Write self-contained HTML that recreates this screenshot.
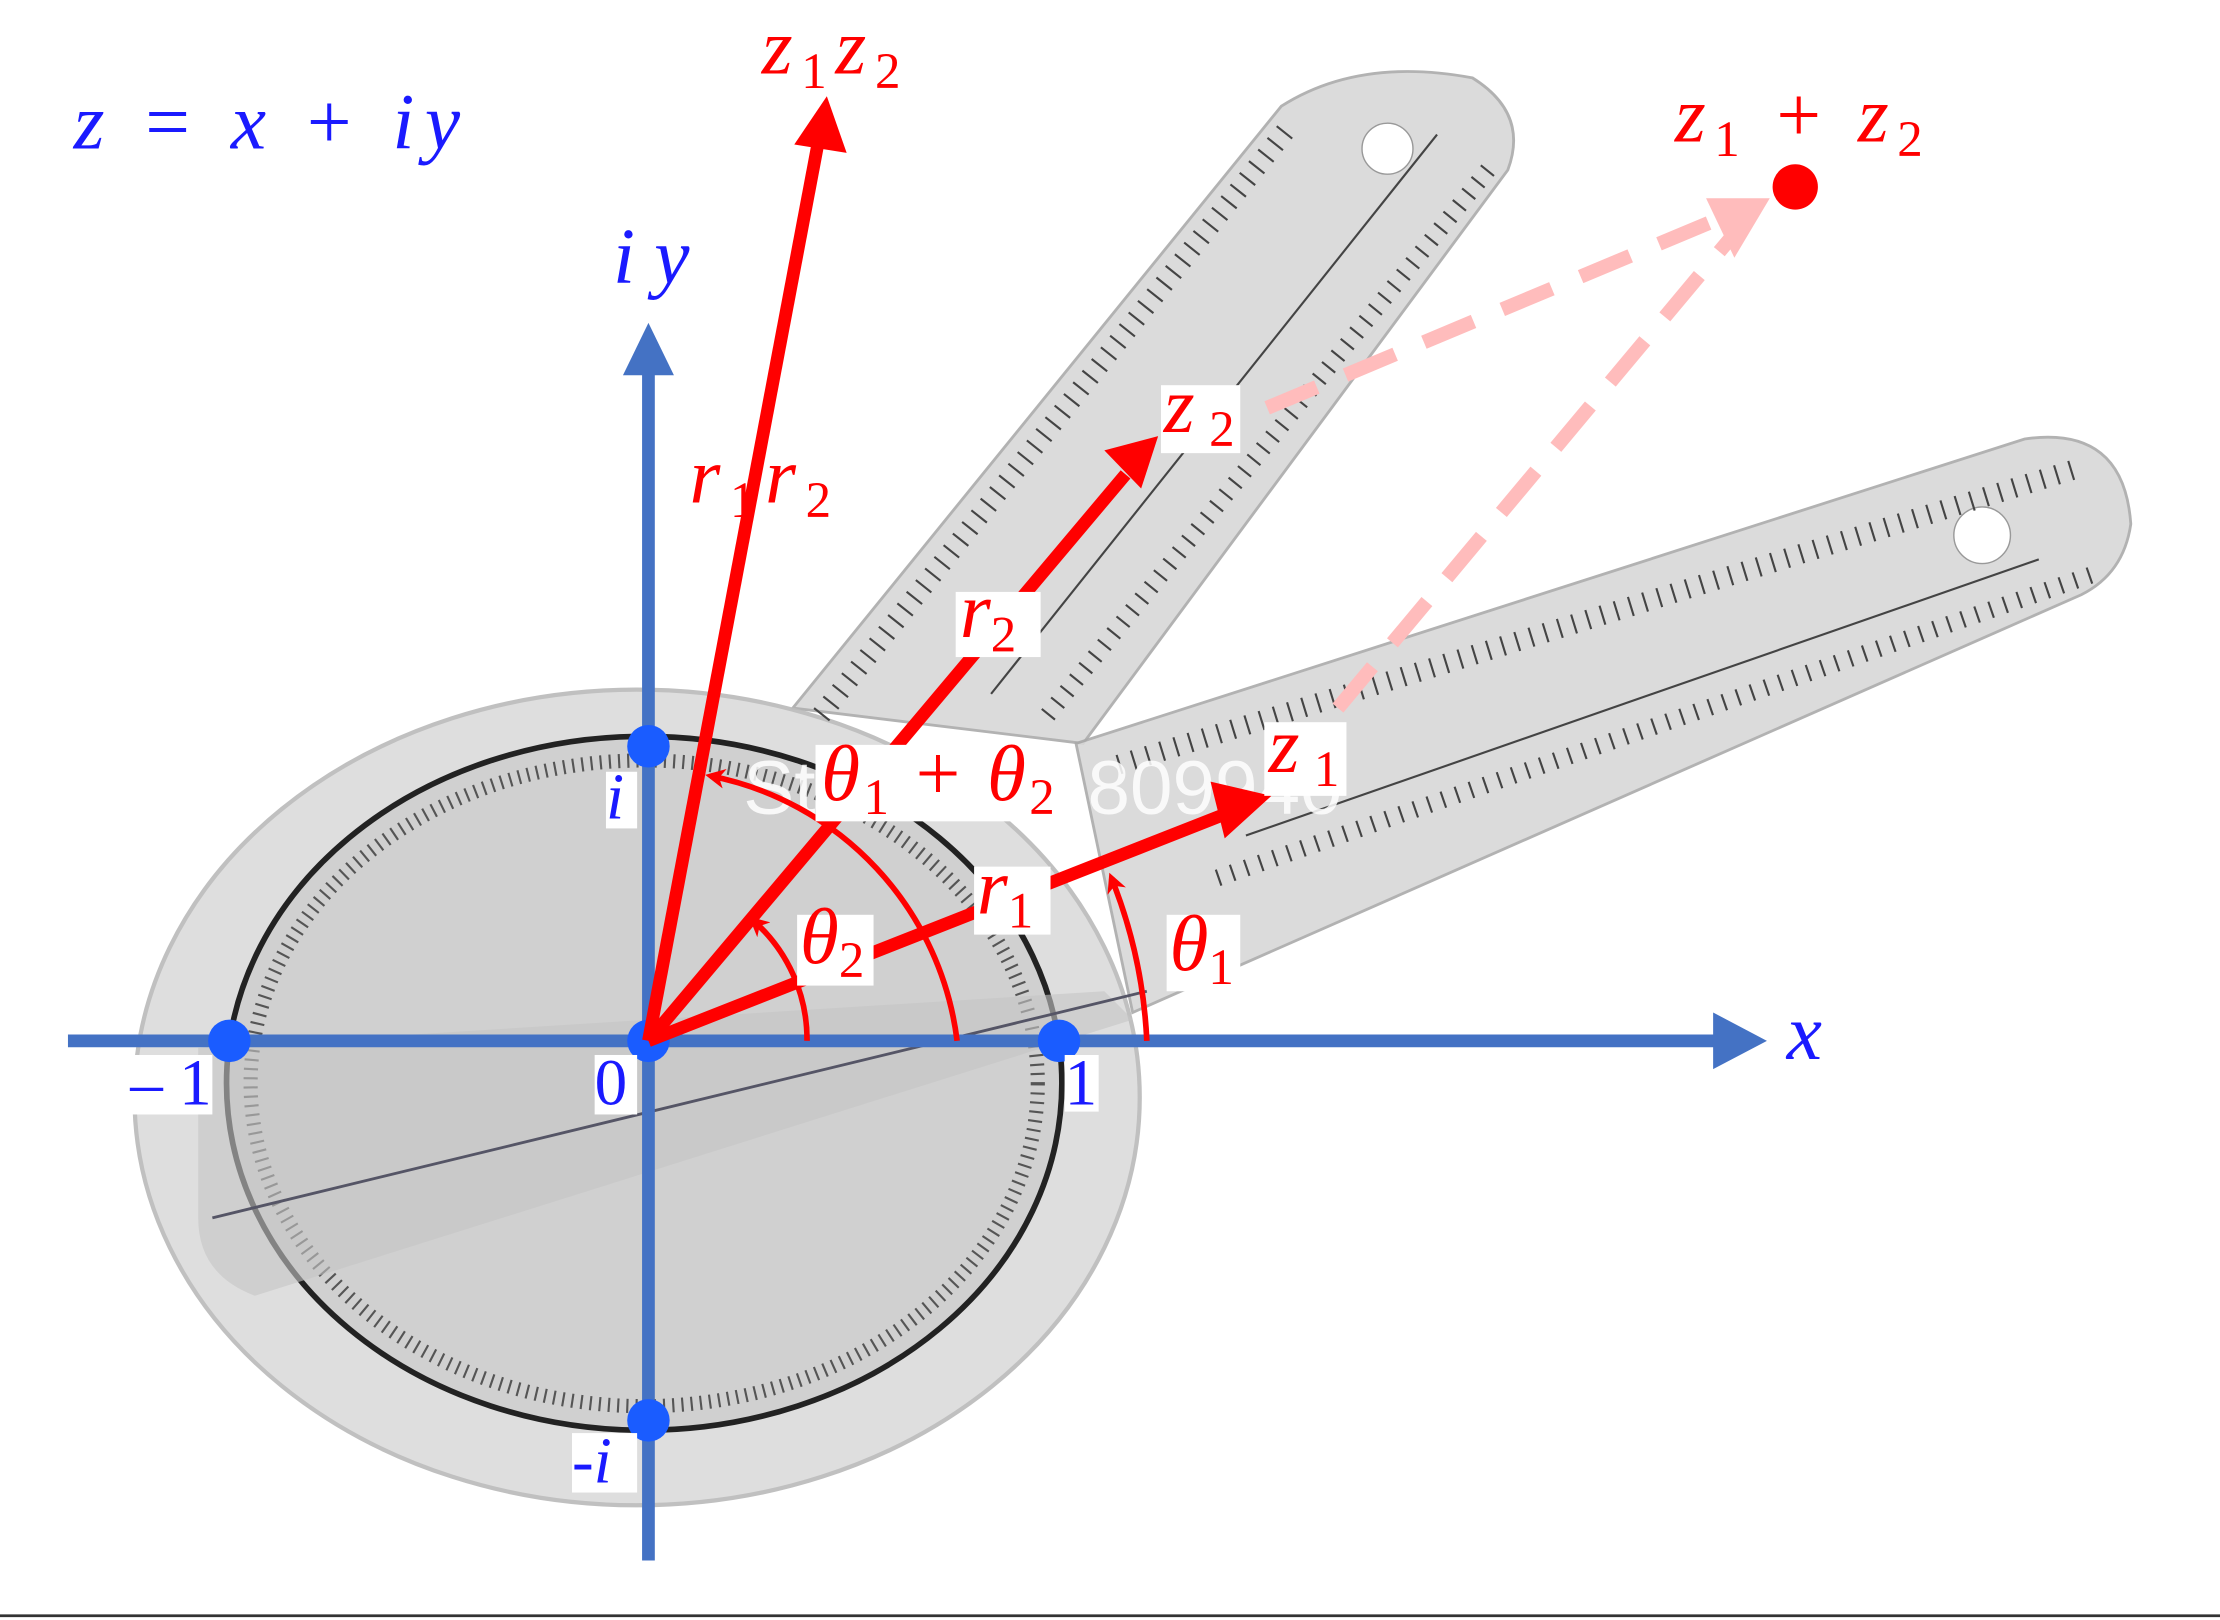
<!DOCTYPE html>
<html><head><meta charset="utf-8"><style>
html,body{margin:0;padding:0;background:#fff;}
svg{display:block;}
text{font-family:"Liberation Serif",serif;font-style:italic;}
</style></head><body>
<svg width="2220" height="1620" viewBox="0 0 1568 1144" preserveAspectRatio="none" xmlns="http://www.w3.org/2000/svg">
<defs>
<marker id="ar" markerWidth="14" markerHeight="14" refX="10" refY="7" orient="auto" markerUnits="userSpaceOnUse" viewBox="0 0 14 14"><path d="M0,0 L14,7 L0,14 L4,7 z" fill="#f00"/></marker>
</defs>
<rect width="1568" height="1144" fill="#fff"/>
<line x1="0" y1="1141" x2="1568" y2="1141" stroke="#333" stroke-width="2"/>
<!-- goniometer -->
<path d="M560,500 L905,75 Q960,40 1040,55 Q1080,80 1065,120 L765,525 Z" fill="#d8d8d8" stroke="#aaa" stroke-width="2" opacity="0.9"/>
<path d="M760,525 L1430,310 Q1500,300 1505,370 Q1500,405 1470,420 L800,715 Z" fill="#d8d8d8" stroke="#aaa" stroke-width="2" opacity="0.9"/>
<ellipse cx="450" cy="775" rx="355" ry="288" fill="#dcdcdc" stroke="#bbb" stroke-width="3" opacity="0.92"/>
<ellipse cx="455" cy="765" rx="295" ry="245" fill="#d0d0d0" stroke="#222" stroke-width="4"/>
<ellipse cx="455" cy="765" rx="278" ry="228" fill="none" stroke="#555" stroke-width="10" stroke-dasharray="1.5 5"/>
<path d="M140,740 L780,700 L800,720 L180,915 Q140,900 140,860 Z" fill="#c4c4c4" opacity="0.6"/>
<line x1="150" y1="860" x2="810" y2="700" stroke="#556" stroke-width="2"/>
<circle cx="980" cy="105" r="18" fill="#fff" stroke="#999"/>
<circle cx="1400" cy="378" r="20" fill="#fff" stroke="#999"/>
<!-- ruler ticks -->
<line x1="580" y1="505" x2="910" y2="90" stroke="#444" stroke-width="14" stroke-dasharray="1.5 9"/>
<line x1="790" y1="540" x2="1470" y2="330" stroke="#444" stroke-width="14" stroke-dasharray="1.5 9"/>
<line x1="860" y1="620" x2="1480" y2="405" stroke="#444" stroke-width="12" stroke-dasharray="1.5 9"/>
<line x1="740" y1="505" x2="1055" y2="115" stroke="#444" stroke-width="12" stroke-dasharray="1.5 9"/>
<line x1="880" y1="590" x2="1440" y2="395" stroke="#444" stroke-width="1.5"/>
<line x1="700" y1="490" x2="1015" y2="95" stroke="#444" stroke-width="1.5"/>
<text x="525" y="575" font-size="54" fill="#fff" opacity="0.85" style="font-style:normal;font-family:'Liberation Sans',sans-serif">Store No: 809940</text>
<!-- blue axes -->
<g stroke="#4472c4" stroke-width="9">
<line x1="48" y1="735" x2="1215" y2="735"/>
<line x1="458" y1="1102" x2="458" y2="262"/>
</g>
<path d="M1210,715 L1248,735 L1210,755 Z" fill="#4472c4"/>
<path d="M440,265 L458,228 L476,265 Z" fill="#4472c4"/>
<g fill="#1a5cff">
<circle cx="458" cy="527" r="15"/><circle cx="458" cy="1003" r="15"/>
<circle cx="748" cy="735" r="15"/><circle cx="162" cy="735" r="15"/><circle cx="458" cy="735" r="15"/>
</g>
<!-- dashed -->
<g stroke="#ffbcbc" stroke-width="10" stroke-dasharray="38 22" fill="none">
<line x1="895" y1="288" x2="1220" y2="152"/>
<line x1="945" y1="500" x2="1225" y2="165"/>
</g>
<path d="M1205,140 L1250,140 L1225,182 Z" fill="#ffbcbc"/>
<circle cx="1268" cy="132" r="16" fill="#f00"/>
<!-- red arrows -->
<g stroke="#f00" stroke-width="9" fill="none">
<line x1="458" y1="735" x2="578" y2="100"/>
<line x1="458" y1="735" x2="795" y2="335"/>
<line x1="458" y1="735" x2="865" y2="575"/>
</g>
<path d="M561,102 L584,68 L598,108 Z" fill="#f00"/>
<path d="M780,318 L818,308 L806,345 Z" fill="#f00"/>
<path d="M855,552 L898,562 L865,592 Z" fill="#f00"/>
<!-- angle arcs -->
<g stroke="#f00" stroke-width="4" fill="none">
<path d="M810,735 A352,352 0 0 0 785,620" marker-end="url(#ar)"/>
<path d="M570,735 A112,112 0 0 0 532,650" marker-end="url(#ar)"/>
<path d="M676,735 A218,218 0 0 0 502,548" marker-end="url(#ar)"/>
</g>
<!-- label backgrounds -->
<g fill="#fff">
<rect x="820" y="272" width="56" height="48"/>
<rect x="893" y="510" width="58" height="52"/>
<rect x="675" y="418" width="60" height="46"/>
<rect x="688" y="612" width="54" height="48"/>
<rect x="563" y="646" width="54" height="50"/>
<rect x="824" y="646" width="52" height="54"/>
<rect x="576" y="526" width="174" height="54"/>
<rect x="428" y="545" width="22" height="40"/>
<rect x="752" y="745" width="24" height="40"/>
<rect x="420" y="745" width="30" height="42"/>
<rect x="92" y="745" width="58" height="42"/>
<rect x="404" y="1012" width="46" height="42"/>
</g>
<g fill="#f00" font-size="56">
<text x="538" y="52" textLength="98" lengthAdjust="spacing">z<tspan font-size="36" dy="10" style="font-style:normal">1</tspan><tspan dy="-10">z</tspan><tspan font-size="36" dy="10" style="font-style:normal">2</tspan></text>
<text x="1183" y="100" textLength="175" lengthAdjust="spacing">z<tspan font-size="36" dy="10" style="font-style:normal">1</tspan><tspan dy="-10" style="font-style:normal"> + </tspan>z<tspan font-size="36" dy="10" style="font-style:normal">2</tspan></text>
<text x="487" y="355" textLength="100" lengthAdjust="spacing">r<tspan font-size="36" dy="10" style="font-style:normal">1</tspan><tspan dy="-10">r</tspan><tspan font-size="36" dy="10" style="font-style:normal">2</tspan></text>
<text x="822" y="305" textLength="50" lengthAdjust="spacing">z<tspan font-size="36" dy="10" style="font-style:normal">2</tspan></text>
<text x="896" y="545" textLength="50" lengthAdjust="spacing">z<tspan font-size="36" dy="10" style="font-style:normal">1</tspan></text>
<text x="678" y="450">r<tspan font-size="36" dy="10" style="font-style:normal">2</tspan></text>
<text x="690" y="645">r<tspan font-size="36" dy="10" style="font-style:normal">1</tspan></text>
<text x="565" y="680">θ<tspan font-size="36" dy="10" style="font-style:normal">2</tspan></text>
<text x="826" y="685">θ<tspan font-size="36" dy="10" style="font-style:normal">1</tspan></text>
<text x="580" y="565" textLength="165" lengthAdjust="spacing">θ<tspan font-size="36" dy="10" style="font-style:normal">1</tspan><tspan dy="-10" style="font-style:normal"> + </tspan>θ<tspan font-size="36" dy="10" style="font-style:normal">2</tspan></text>
</g>
<g fill="#1a1aff" font-size="56">
<text x="52" y="105" textLength="273" lengthAdjust="spacing">z <tspan style="font-style:normal">=</tspan> x <tspan style="font-style:normal">+</tspan> iy</text>
<text x="433" y="200" textLength="54" lengthAdjust="spacing">iy</text>
<text x="1262" y="748">x</text>
<text x="428" y="578" font-size="46">i</text>
<text x="752" y="780" font-size="46" style="font-style:normal">1</text>
<text x="420" y="780" font-size="46" style="font-style:normal">0</text>
<text x="92" y="780" font-size="46" style="font-style:normal">– 1</text>
<text x="404" y="1047" font-size="46">-i</text>
</g>
</svg>
</body></html>
